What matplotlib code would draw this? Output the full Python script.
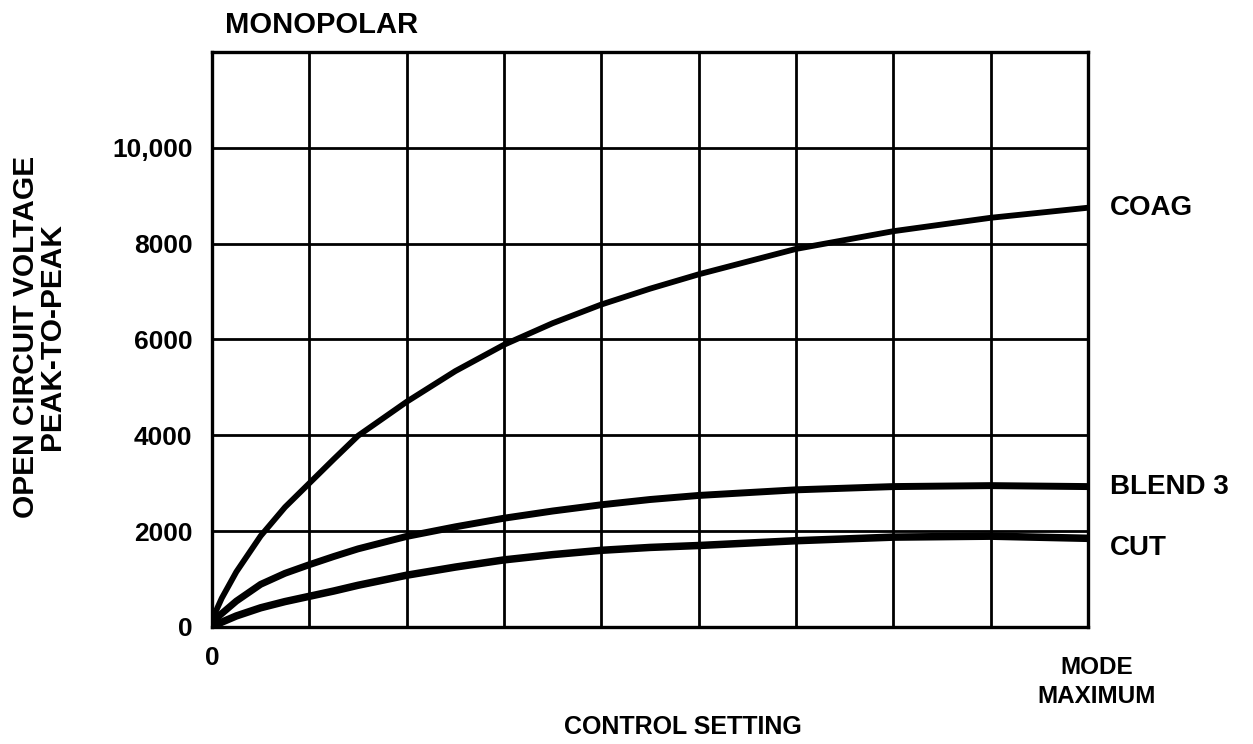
import matplotlib.pyplot as plt

plt.rcParams['font.family'] = ['Liberation Sans', 'DejaVu Sans']
plt.rcParams['font.weight'] = 'bold'

# control setting, in grid divisions (0 .. mode maximum = 9)
setting = [0, 0.1, 0.25, 0.5, 0.75, 1, 1.25, 1.5, 2, 2.5, 3, 3.5, 4, 4.5, 5, 6, 7, 8, 9]
coag = [150, 600, 1150, 1900, 2500, 3000, 3500, 3990, 4700, 5340, 5890, 6340, 6730, 7060, 7360,
        7890, 8260, 8540, 8750]
blend3 = [100, 280, 540, 890, 1120, 1300, 1470, 1630, 1890, 2090, 2270, 2420, 2550, 2660, 2745,
          2862, 2930, 2950, 2930]
cut = [0, 100, 230, 400, 530, 640, 750, 870, 1080, 1250, 1400, 1510, 1600, 1660, 1700,
       1800, 1875, 1895, 1850]

y_ticks = [0, 2000, 4000, 6000, 8000, 10000, 12000]
y_labels = ['0', '2000', '4000', '6000', '8000', '10,000', '']

fig = plt.figure(figsize=(12.53, 7.44), dpi=100)
ax = fig.add_axes([0.1692, 0.1573, 0.6991, 0.7728])

ax.plot(setting, coag, color='black', lw=4.2, solid_capstyle='butt', solid_joinstyle='round', zorder=3)
ax.plot(setting, blend3, color='black', lw=5.0, solid_capstyle='butt', solid_joinstyle='round', zorder=3)
ax.plot(setting, cut, color='black', lw=5.4, solid_capstyle='butt', solid_joinstyle='round', zorder=3)

ax.set_xlim(0, 9)
ax.set_ylim(0, 12000)
ax.set_xticks(range(10))
ax.set_xticklabels(['0'] + [''] * 9)
ax.set_yticks(y_ticks)
ax.set_yticklabels(y_labels)
ax.tick_params(length=0, labelsize=19, pad=14)
ax.grid(True, color='black', lw=2.0)
for s in ax.spines.values():
    s.set_linewidth(2.4)

# curve names at the right end
ax.text(9.23, coag[-1], 'COAG', fontsize=20, va='center', ha='left')
ax.text(9.23, blend3[-1], 'BLEND 3', fontsize=20, va='center', ha='left')
ax.annotate('CUT', (9, cut[-1]), xytext=(16, -7), textcoords='offset points',
            fontsize=20, va='center', ha='left')

fig.text(1097 / 1253, 1 - 682 / 744, 'MODE\nMAXIMUM', fontsize=17.5, ha='center', va='center',
         multialignment='center', linespacing=1.35)
fig.text(683 / 1253, 1 - 727 / 744, 'CONTROL SETTING', fontsize=18, ha='center', va='center')
fig.text(225 / 1253, 1 - 25 / 744, 'MONOPOLAR', fontsize=21, ha='left', va='center')
fig.text(39 / 1253, 1 - 337 / 744, 'OPEN CIRCUIT VOLTAGE\nPEAK-TO-PEAK', fontsize=21.5, rotation=90,
         ha='center', va='center', multialignment='center', linespacing=0.95)

fig.savefig('out.png', dpi=100)
